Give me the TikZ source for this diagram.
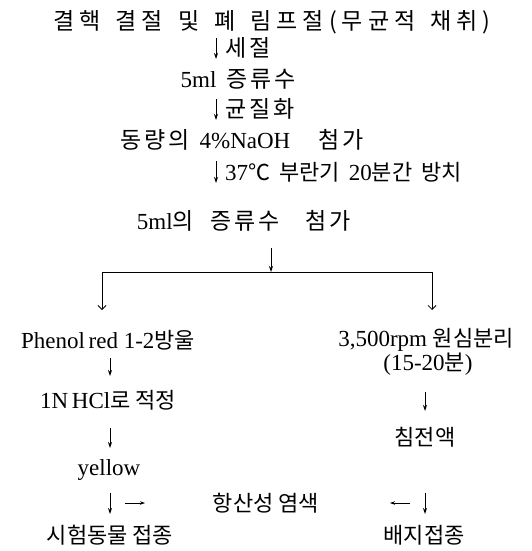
\documentclass[tikz,border=0pt]{standalone}
\usepackage{fontspec}
\setmainfont{Liberation Serif}
\newfontfamily\kr{Noto Sans CJK KR}[Scale=0.9565]
\newfontfamily\krs{Noto Sans CJK KR}[Scale=1.0,LetterSpace=12]
\newfontfamily\krw{Noto Sans CJK KR}[Scale=1.0,LetterSpace=22]
\usetikzlibrary{arrows.meta}
\begin{document}
\begin{tikzpicture}[x=1pt,y=-1pt,
  txt/.style={inner sep=0pt, font=\fontsize{23}{24}\selectfont},
  lbl/.style={txt, anchor=west},
  glyph/.style={-{Stealth[length=6pt,width=4pt]}, line width=0.9pt},
  side/.style={-{Stealth[length=5pt,width=3.5pt]}, line width=0.8pt},
  branch/.style={-{Straight Barb[length=4pt,width=8pt]}, line width=0.8pt},
  tree/.style={line width=0.8pt},
]
\useasboundingbox (0,0) rectangle (531,551);
% main column
\node[txt] (n1) at (272,22) {{\krw 결핵}\hspace{15pt}{\krw 결절}\hspace{15pt}{\krw 및}\hspace{15pt}{\krw 폐}\hspace{15pt}{\krw 림프절(무균적}\hspace{15pt}{\krw 채취)}};
\node[txt] (n2) at (238,79) {5ml\hspace{10pt}{\krs 증류수}};
\node[txt] (n3) at (242,140) {{\krs 동량의}\hspace{10pt}4\%NaOH\hspace{28pt}{\krs 첨가}};
\node[txt] (n4) at (244,221) {5ml{\krs 의}\hspace{17pt}{\krs 증류수}\hspace{26pt}{\krs 첨가}};
% labels on arrows
\node[lbl] (l1) at (225,48) {\krs 세절};
\node[lbl] (l2) at (225,109) {\krs 균질화};
\node[lbl] (l3) at (225,172) {37{\kr ℃}\hspace{9pt}{\kr 부란기}\hspace{9pt}20{\kr 분간}\hspace{9pt}{\kr 방치}};
% branches
\node[txt] (pl) at (108,340) {Phenol\hspace{-2pt} red 1-2{\kr 방울}};
\node[txt] (pr) at (426,340) {3,500rpm {\kr 원심분리}};
\node[txt] (pr2) at (428,364) {(15-20{\kr 분})};
\node[txt] (tl) at (108,400) {1N\,HCl{\kr 로 적정}};
\node[txt] (tr) at (425,437) {\kr 침전액};
\node[txt] (yl) at (109,470) {yellow};
\node[txt] (st) at (266,503) {\kr 항산성 염색};
\node[txt] (fl) at (110,535) {\kr 시험동물 접종};
\node[txt] (fr) at (424,535) {\kr 배지접종};
% coordinates
\coordinate (a1s) at (216,38);  \coordinate (a1e) at (216,59);
\coordinate (a2s) at (216,99);  \coordinate (a2e) at (216,120);
\coordinate (a3s) at (216,161); \coordinate (a3e) at (216,183);
\coordinate (a4s) at (271,248); \coordinate (j) at (271,272);
\coordinate (jl) at (102,272);  \coordinate (jr) at (432,272);
\coordinate (bl) at (102,310);  \coordinate (br) at (432,310);
\coordinate (l1s) at (110,358); \coordinate (l1e) at (110,376);
\coordinate (l2s) at (110,428); \coordinate (l2e) at (110,448);
\coordinate (l3s) at (110,493); \coordinate (l3e) at (110,514);
\coordinate (r1s) at (425,392); \coordinate (r1e) at (425,411);
\coordinate (r2s) at (425,493); \coordinate (r2e) at (425,514);
\coordinate (hls) at (125,503); \coordinate (hle) at (145,503);
\coordinate (hrs) at (410,503); \coordinate (hre) at (390,503);
% arrows
\draw[glyph] (a1s) -- (a1e);
\draw[glyph] (a2s) -- (a2e);
\draw[glyph] (a3s) -- (a3e);
\draw[glyph] (a4s) -- (j);
\draw[tree] (jl) -- (jr);
\draw[branch] (jl) -- (bl);
\draw[branch] (jr) -- (br);
\draw[glyph] (l1s) -- (l1e);
\draw[glyph] (l2s) -- (l2e);
\draw[glyph] (l3s) -- (l3e);
\draw[glyph] (r1s) -- (r1e);
\draw[glyph] (r2s) -- (r2e);
\draw[side] (hls) -- (hle);
\draw[side] (hrs) -- (hre);
\end{tikzpicture}
\end{document}
